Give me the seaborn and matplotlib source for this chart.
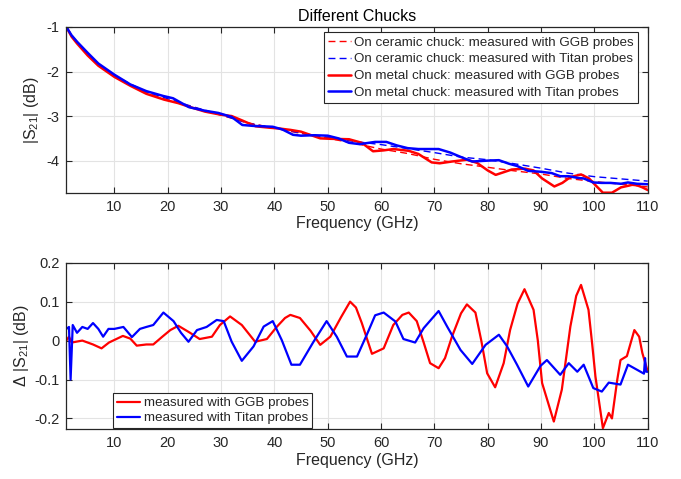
import numpy as np
import pandas as pd
import matplotlib
matplotlib.use("Agg")
import matplotlib.pyplot as plt
import seaborn as sns

# top panel: |S21| on ceramic chuck (dashed) and metal chuck (solid)
freq_ceramic = [1, 2, 3, 5, 7, 10, 13, 16, 20, 25, 30, 35, 40, 45, 50, 55,
                60, 65, 70, 75, 80, 85, 90, 95, 100, 105, 110]
ceramic_ggb = [-1.0, -1.2, -1.35, -1.63, -1.86, -2.11, -2.31, -2.48, -2.64, -2.81,
               -2.98, -3.15, -3.27, -3.39, -3.5, -3.61, -3.74, -3.84, -3.97, -4.07,
               -4.15, -4.23, -4.3, -4.4, -4.47, -4.53, -4.59]
ceramic_titan = [-1.0, -1.18, -1.33, -1.6, -1.83, -2.08, -2.28, -2.45, -2.61, -2.8,
                 -2.97, -3.16, -3.27, -3.38, -3.48, -3.57, -3.64, -3.73, -3.82, -3.92,
                 -3.98, -4.07, -4.17, -4.28, -4.36, -4.41, -4.46]

freq_metal_ggb = [1, 2, 3, 5, 7, 10, 13, 16, 19.3, 22, 24, 27, 30, 32, 34, 36.5, 39, 41, 43,
                  45, 48.6, 50.5, 54, 56.4, 58.5, 60.5, 62.3, 65.2, 67, 69.5, 71, 73.3,
                  76.1, 78, 80, 81.5, 83, 84.5, 87, 88.6, 90.2, 92.5, 94, 95.5, 97.5, 99,
                  100.2, 101.6, 103.3, 105, 106.5, 107.5, 109, 110]
metal_ggb = [-1.0, -1.22, -1.37, -1.64, -1.87, -2.12, -2.32, -2.5, -2.63, -2.71, -2.79, -2.9,
             -2.97, -3.0, -3.1, -3.23, -3.26, -3.28, -3.31, -3.35, -3.5, -3.51, -3.52,
             -3.6, -3.79, -3.77, -3.74, -3.78, -3.85, -4.04, -4.06, -4.02, -3.98, -4.05,
             -4.22, -4.32, -4.26, -4.2, -4.18, -4.22, -4.4, -4.58, -4.5, -4.37, -4.31,
             -4.4, -4.55, -4.72, -4.72, -4.6, -4.56, -4.53, -4.6, -4.66]

freq_metal_titan = [1, 2, 3, 5, 7, 10, 13, 16, 19.2, 21, 24, 27, 29.5, 32, 34, 36, 39.7,
                    41.5, 43.5, 45, 47.5, 50, 52, 54, 56, 58.9, 61, 63, 65, 67, 70.8, 73,
                    75, 77.1, 80, 82.1, 84, 85.5, 87.6, 90, 92, 93.6, 95.2, 97, 98, 99.8,
                    101.4, 103, 105, 106.3, 108, 110]
metal_titan = [-1.0, -1.19, -1.33, -1.58, -1.82, -2.07, -2.29, -2.44, -2.55, -2.6, -2.8,
               -2.88, -2.93, -3.02, -3.2, -3.22, -3.24, -3.3, -3.42, -3.44, -3.43, -3.44,
               -3.5, -3.6, -3.63, -3.58, -3.58, -3.66, -3.72, -3.74, -3.74, -3.82, -3.92,
               -4.02, -4.0, -3.99, -4.07, -4.12, -4.23, -4.25, -4.28, -4.35, -4.35, -4.39,
               -4.4, -4.49, -4.5, -4.5, -4.52, -4.49, -4.52, -4.53]

# bottom panel: difference metal - ceramic
freq_delta_ggb = [1.0, 1.5, 2, 4, 6, 7.6, 9, 11.6, 13, 14.2, 16, 17.3, 19, 20.5, 22, 24.2,
                  26, 28.3, 29.8, 31.7, 33.9, 36.4, 38.6, 40.5, 42, 43, 44.8, 46.8, 48.6,
                  50.5, 52.5, 54.2, 55.3, 56.4, 58.3, 60.5, 62.3, 64, 65.2, 66.7, 68, 69.2,
                  70.8, 72, 73.3, 75, 76.1, 77.7, 78.8, 79.9, 81.4, 83, 84.2, 85.6, 86.9,
                  88.6, 89.4, 90.2, 92.4, 93.9, 95.5, 96.6, 97.5, 98.9, 99.6, 100.2, 101.6,
                  102.7, 103.3, 104.3, 104.9, 106.1, 107.5, 108.4, 109, 110]
delta_ggb = [0.0, 0.01, -0.005, 0.0, -0.01, -0.02, -0.005, 0.012, 0.005, -0.013, -0.01,
             -0.01, 0.01, 0.027, 0.038, 0.02, 0.004, 0.01, 0.04, 0.062, 0.04, -0.003, 0.004,
             0.036, 0.058, 0.066, 0.058, 0.025, -0.011, 0.01, 0.06, 0.1, 0.085, 0.045,
             -0.034, -0.02, 0.04, 0.066, 0.072, 0.05, -0.005, -0.058, -0.071, -0.045, 0.01,
             0.07, 0.093, 0.072, 0.0, -0.084, -0.12, -0.058, 0.027, 0.095, 0.132, 0.079,
             0.0, -0.109, -0.208, -0.126, 0.036, 0.115, 0.143, 0.079, -0.01, -0.092, -0.225,
             -0.186, -0.2, -0.1, -0.05, -0.04, 0.027, 0.01, -0.032, -0.079]

freq_delta_titan = [1.0, 1.5, 1.8, 2.2, 3, 4, 5, 6, 7, 7.9, 8.9, 10, 11.7, 13.3, 14.8, 16,
                    17.3, 19.2, 21.1, 22.5, 23.9, 25.5, 27.3, 29.2, 30.5, 32, 33.9, 36.1,
                    38, 39.7, 41.4, 43.2, 44.8, 47.3, 49.8, 51.7, 53.6, 55.5, 57.4, 58.9,
                    60.5, 62.7, 64.2, 66.4, 68, 70.8, 72.4, 74.9, 77.1, 79.6, 82.1, 83.6,
                    85.5, 87.6, 89.9, 91.1, 93.6, 95.2, 96.8, 98, 99.8, 101.4, 102.7, 104.9,
                    106.3, 108, 109.3, 109.5, 109.7, 110]
delta_titan = [0.03, 0.035, -0.1, 0.04, 0.02, 0.035, 0.03, 0.045, 0.03, 0.01, 0.03, 0.03,
               0.035, 0.009, 0.03, 0.035, 0.04, 0.072, 0.05, 0.02, -0.003, 0.027, 0.035,
               0.053, 0.05, -0.003, -0.052, -0.015, 0.036, 0.05, 0.001, -0.062, -0.062,
               -0.004, 0.05, 0.01, -0.041, -0.041, 0.017, 0.065, 0.072, 0.049, 0.004,
               -0.005, 0.032, 0.076, 0.036, -0.024, -0.06, -0.011, 0.015, -0.014, -0.062,
               -0.118, -0.065, -0.05, -0.088, -0.058, -0.08, -0.062, -0.122, -0.131,
               -0.108, -0.113, -0.062, -0.075, -0.085, -0.045, -0.08, -0.08]

x_ticks = [10, 20, 30, 40, 50, 60, 70, 80, 90, 100, 110]
top_yticks = [-4, -3, -2, -1]
bottom_yticks = [-0.2, -0.1, 0, 0.1, 0.2]

sns.set_theme(style="ticks")
plt.rcParams["font.family"] = ["Liberation Sans", "DejaVu Sans"]
plt.rcParams["axes.unicode_minus"] = False
plt.rcParams["mathtext.default"] = "regular"

fig = plt.figure(figsize=(6.81, 4.79), dpi=100)
ax1 = fig.add_axes([0.0974, 0.5977, 0.8537, 0.346])
ax2 = fig.add_axes([0.0974, 0.1037, 0.8537, 0.3478])

red = "#ff0000"
blue = "#0000ff"

sns.lineplot(x=freq_ceramic, y=ceramic_ggb, ax=ax1, color=red, lw=1.0, linestyle=(0, (5, 3)),
             label="On ceramic chuck: measured with GGB probes", estimator=None, sort=False)
sns.lineplot(x=freq_ceramic, y=ceramic_titan, ax=ax1, color=blue, lw=1.0, linestyle=(0, (5, 3)),
             label="On ceramic chuck: measured with Titan probes", estimator=None, sort=False)
sns.lineplot(x=freq_metal_ggb, y=metal_ggb, ax=ax1, color=red, lw=1.8,
             label="On metal chuck: measured with GGB probes", estimator=None, sort=False)
sns.lineplot(x=freq_metal_titan, y=metal_titan, ax=ax1, color=blue, lw=1.8,
             label="On metal chuck: measured with Titan probes", estimator=None, sort=False)

sns.lineplot(x=freq_delta_ggb, y=delta_ggb, ax=ax2, color=red, lw=1.6,
             label="measured with GGB probes", estimator=None, sort=False)
sns.lineplot(x=freq_delta_titan, y=delta_titan, ax=ax2, color=blue, lw=1.6,
             label="measured with Titan probes", estimator=None, sort=False)

dark = "#262626"
for ax in (ax1, ax2):
    ax.set_xlim(1, 110)
    ax.set_xticks(x_ticks)
    ax.grid(True, color="#e3e3e3", lw=0.8)
    ax.set_axisbelow(True)
    ax.tick_params(direction="in", top=True, right=True, length=4, width=0.8,
                   labelsize=10.5, colors=dark, pad=5)
    for sp in ax.spines.values():
        sp.set_visible(True)
        sp.set_color(dark)
        sp.set_linewidth(0.9)
    ax.set_xlabel("Frequency (GHz)", fontsize=11.5, color=dark, labelpad=2)

ax1.set_ylim(-4.72, -1)
ax1.set_yticks(top_yticks)
ax1.set_yticklabels([f"{v:g}" for v in top_yticks])
ax1.set_ylabel("|S$_{21}$| (dB)", fontsize=11.5, color=dark, labelpad=4)
ax1.set_title("Different Chucks", fontsize=11.5, color="black", pad=4)

ax2.set_ylim(-0.228, 0.2)
ax2.set_yticks(bottom_yticks)
ax2.set_yticklabels([f"{v:g}" for v in bottom_yticks])
ax2.set_ylabel("\u0394 |S$_{21}$| (dB)", fontsize=11.5, color=dark, labelpad=2)

leg1 = ax1.legend(loc="upper right", bbox_to_anchor=(0.983, 0.967), fontsize=9.6,
                  frameon=True, fancybox=False, framealpha=1, edgecolor=dark,
                  handlelength=1.75, handletextpad=0.25, borderpad=0.28, labelspacing=0.34,
                  borderaxespad=0)
leg1.get_frame().set_linewidth(0.8)
leg2 = ax2.legend(loc="lower left", bbox_to_anchor=(0.08, 0.005), fontsize=9.6,
                  frameon=True, fancybox=False, framealpha=1, edgecolor=dark,
                  handlelength=1.75, handletextpad=0.25, borderpad=0.3, labelspacing=0.2,
                  borderaxespad=0)
leg2.get_frame().set_linewidth(0.8)

fig.savefig("out.png", dpi=100)
